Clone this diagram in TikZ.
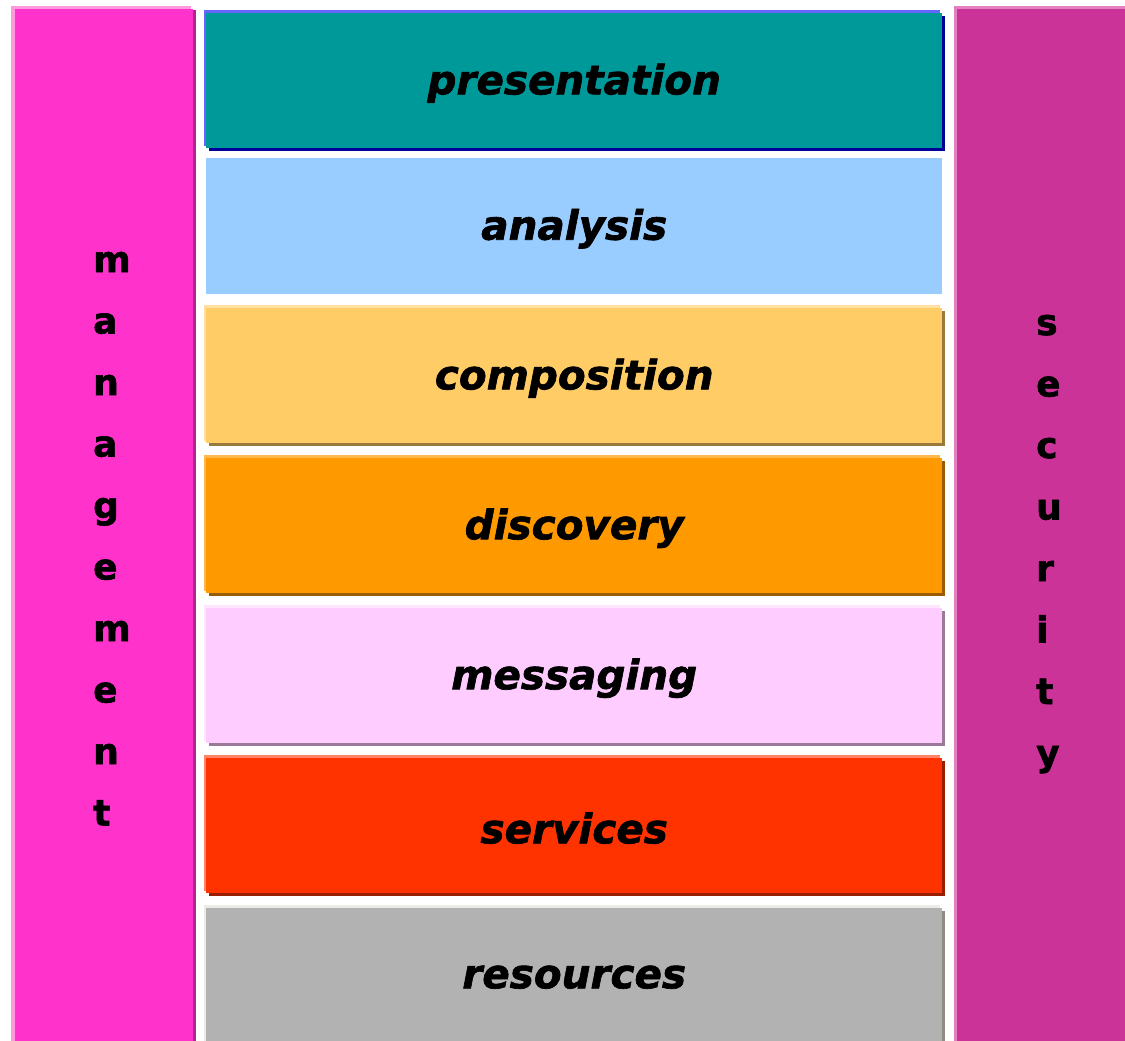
\documentclass[tikz,border=0pt]{standalone}
\usepackage{fontspec}
\setmainfont{DejaVu Sans}
\newfontfamily\heavy[BoldFeatures={FakeBold=1.6},BoldItalicFeatures={FakeBold=1.6}]{DejaVu Sans}
\begin{document}
\begin{tikzpicture}[x=1pt,y=-1pt,
  lbl/.style={font=\heavy\fontsize{40.5}{48}\selectfont\bfseries\itshape, text=black},
  vlet/.style={font=\heavy\fontsize{36}{40}\selectfont\bfseries, text=black, anchor=base west, inner sep=0pt}]
\useasboundingbox[fill=white] (0,0) rectangle (1125,1041);
% side bars
\fill[fill={rgb,255:red,255;green,153;blue,221}] (11,6) rectangle (191,1041);
\fill[fill={rgb,255:red,179;green,36;blue,143}] (15,10) rectangle (196,1041);
\draw[white, densely dotted, line width=1pt] (196.5,10) -- (196.5,1041);
\node[fill={rgb,255:red,255;green,51;blue,204}, inner sep=0pt, minimum width=178pt, minimum height=1032pt, anchor=north west] (mgmt) at (15,9) {};
\fill[fill={rgb,255:red,226;green,128;blue,192}] (954,6) rectangle (1125,1041);
\node[fill={rgb,255:red,204;green,51;blue,153}, inner sep=0pt, minimum width=168pt, minimum height=1032pt, anchor=north west] (sec) at (957,9) {};
% layers
\newcommand\mylayer[6]{%
  \fill[fill=#5] (209,#1+6) rectangle (945,#1+141);
  \fill[fill=#4] (204,#1) rectangle (940,#1+136);
  \node[fill=#3, inner sep=0pt, minimum width=736pt, minimum height=135pt, anchor=north west] (#2) at (206,#1+3) {};
  \node[lbl] (#2-t) at ([yshift=-2.5pt]#2.center) {#6};
}
\definecolor{pfill}{RGB}{0,153,153}\definecolor{plight}{RGB}{102,102,255}\definecolor{pdark}{RGB}{0,0,153}
\definecolor{afill}{RGB}{153,204,255}
\definecolor{cfill}{RGB}{255,204,102}\definecolor{clight}{RGB}{255,224,160}\definecolor{cdark}{RGB}{153,122,61}
\definecolor{dfill}{RGB}{255,153,0}\definecolor{dlight}{RGB}{255,184,77}\definecolor{ddark}{RGB}{153,92,0}
\definecolor{mfill}{RGB}{255,204,255}\definecolor{mlight}{RGB}{255,230,255}\definecolor{mdark}{RGB}{153,122,153}
\definecolor{sfill}{RGB}{255,51,0}\definecolor{slight}{RGB}{255,133,102}\definecolor{sdark}{RGB}{153,31,0}
\definecolor{rfill}{RGB}{178,178,178}\definecolor{rlight}{RGB}{236,236,230}\definecolor{rdark}{RGB}{140,140,132}
\mylayer{10}{presentation}{pfill}{plight}{pdark}{presentation}
\node[fill=afill, inner sep=0pt, minimum width=736pt, minimum height=136pt, anchor=north west] (analysis) at (206,158) {};
\node[lbl] (analysis-t) at ([yshift=-2.5pt]analysis.center) {analysis};
\mylayer{305}{composition}{cfill}{clight}{cdark}{composition}
\mylayer{455}{discovery}{dfill}{dlight}{ddark}{discovery}
\mylayer{605}{messaging}{mfill}{mlight}{mdark}{messaging}
\mylayer{755}{services}{sfill}{slight}{sdark}{services}
\fill[fill=rdark] (209,911) rectangle (945,1041);
\fill[fill=rlight] (204,905) rectangle (940,1041);
\node[fill=rfill, inner sep=0pt, minimum width=736pt, minimum height=133pt, anchor=north west] (resources) at (206,908) {};
\node[lbl] (resources-t) at ([yshift=-2.5pt]resources.center) {resources};
% vertical words
\foreach \ch [count=\i from 0] in {m,a,n,a,g,e,m,e,n,t}
  \node[vlet] (mg\i) at (93,272+61.5*\i) {\ch};
\foreach \ch [count=\i from 0] in {s,e,c,u,r,i,t,y}
  \node[vlet] (se\i) at (1036,335+61.5*\i) {\ch};
\end{tikzpicture}
\end{document}
